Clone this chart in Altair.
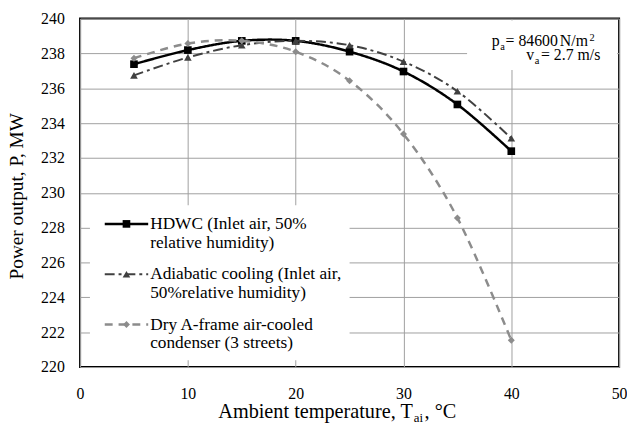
import altair as alt
import pandas as pd

temps = [5, 10, 15, 20, 25, 30, 35, 40]
hdwc = [237.38, 238.19, 238.72, 238.72, 238.10, 236.96, 235.07, 232.39]
adiabatic = [236.74, 237.77, 238.47, 238.72, 238.47, 237.53, 235.83, 233.13]
dry = [237.72, 238.57, 238.72, 238.10, 236.43, 233.37, 228.56, 221.54]

series_names = ["HDWC", "Adiabatic", "Dry"]
series_values = [hdwc, adiabatic, dry]
legend_lines = [
    ["HDWC (Inlet air, 50%", "relative humidity)"],
    ["Adiabatic cooling (Inlet air,", "50%relative humidity)"],
    ["Dry A-frame air-cooled", "condenser (3 streets)"],
]
x_ticks = [0, 10, 20, 30, 40, 50]
y_ticks = [220, 222, 224, 226, 228, 230, 232, 234, 236, 238, 240]

colors = ["#000000", "#404040", "#8c8c8c"]
dashes = [[1, 0], [10, 4, 3, 4], [8, 6]]
shapes = ["square", "triangle-up", "diamond"]
sizes = [60, 60, 50]
widths = [2.5, 2, 2.5]

FONT = "Liberation Serif"

rows = []
for name, vals in zip(series_names, series_values):
    for t, v in zip(temps, vals):
        rows.append({"series": name, "T": t, "P": v})
df = pd.DataFrame(rows)

xscale = alt.Scale(domain=[0, 50], nice=False)
yscale = alt.Scale(domain=[220, 240], nice=False, zero=False)

xaxis = alt.Axis(values=x_ticks, grid=True, ticks=False, domain=False,
                 labelPadding=19, title=None, labelFlush=False,
                 labelFont=FONT, labelFontSize=16, labelColor="black",
                 labelOverlap=False, gridColor="#a0a0a0", gridWidth=1)
yaxis = alt.Axis(values=y_ticks, grid=True, ticks=False, domain=False,
                 labelPadding=16, title=None, labelFont=FONT, labelFontSize=16,
                 labelColor="black", labelOverlap=False,
                 gridColor="#a0a0a0", gridWidth=1)
X = alt.X("T:Q", scale=xscale, axis=xaxis)
Y = alt.Y("P:Q", scale=yscale, axis=yaxis)

layers = []
for i, name in enumerate(series_names):
    sub = df[df.series == name]
    base = alt.Chart(sub)
    line = base.mark_line(interpolate="cardinal", color=colors[i],
                          strokeDash=dashes[i], strokeWidth=widths[i]).encode(x=X, y=Y)
    pts = base.mark_point(shape=shapes[i], filled=True, size=sizes[i],
                          color=colors[i], opacity=1).encode(x=X, y=Y)
    layers += [line, pts]

one = alt.Data(values=[{"k": 1}])

def txt(s, x, y, size, align="left", baseline="alphabetic", angle=0):
    kw = dict(font=FONT, fontSize=size, align=align, baseline=baseline, color="black")
    if angle:
        kw["angle"] = angle
    return alt.Chart(one).mark_text(**kw).encode(
        x=alt.value(x), y=alt.value(y), text=alt.value(s))

# legend box
layers.append(alt.Chart(one).mark_rect(color="white").encode(
    x=alt.value(10), x2=alt.value(273), y=alt.value(189), y2=alt.value(346)))
leg_y = [208, 259, 310]
for i in range(3):
    yy = leg_y[i]
    layers.append(alt.Chart(one).mark_rule(color=colors[i], strokeDash=dashes[i],
                                           strokeWidth=widths[i]).encode(
        x=alt.value(25), x2=alt.value(69), y=alt.value(yy)))
    layers.append(alt.Chart(one).mark_point(shape=shapes[i], filled=True, size=sizes[i],
                                            color=colors[i], opacity=1).encode(
        x=alt.value(47), y=alt.value(yy)))
    layers.append(txt(legend_lines[i][0], 71, yy, 17.5, baseline="middle"))
    layers.append(txt(legend_lines[i][1], 71, yy + 19, 17.5, baseline="middle"))

# annotation box
layers.append(alt.Chart(one).mark_rect(color="white").encode(
    x=alt.value(392), x2=alt.value(544), y=alt.value(2), y2=alt.value(52)))
layers.append(txt("p", 417, 28.3, 16))
layers.append(txt("a", 425.5, 32, 10.5))
layers.append(txt("=", 431, 28.3, 16))
layers.append(txt("84600", 444, 28.3, 16))
layers.append(txt("N/m", 486, 28.3, 16))
layers.append(txt("2", 516, 23, 10.5))
layers.append(txt("v", 452, 42.3, 16))
layers.append(txt("a", 460.5, 46, 10.5))
layers.append(txt("= 2.7 m/s", 527, 42.3, 16, align="right"))

# axis titles
layers.append(txt("Ambient temperature, T", 337, 405, 20.5, align="right"))
layers.append(txt("ai", 338, 408.5, 13))
layers.append(txt(", °C", 349, 405, 20.5))
layers.append(txt("Power output, P, MW", -64, 180, 19.5, align="center",
                  baseline="middle", angle=270))

chart = alt.layer(*layers).properties(
    width=546, height=353,
    autosize=alt.AutoSizeParams(type="none"),
    padding={"left": 73, "top": 8, "right": 8, "bottom": 55},
).configure_view(stroke="black", strokeWidth=2)

chart.save("out.html", embed_options={"renderer": "svg", "actions": False})
